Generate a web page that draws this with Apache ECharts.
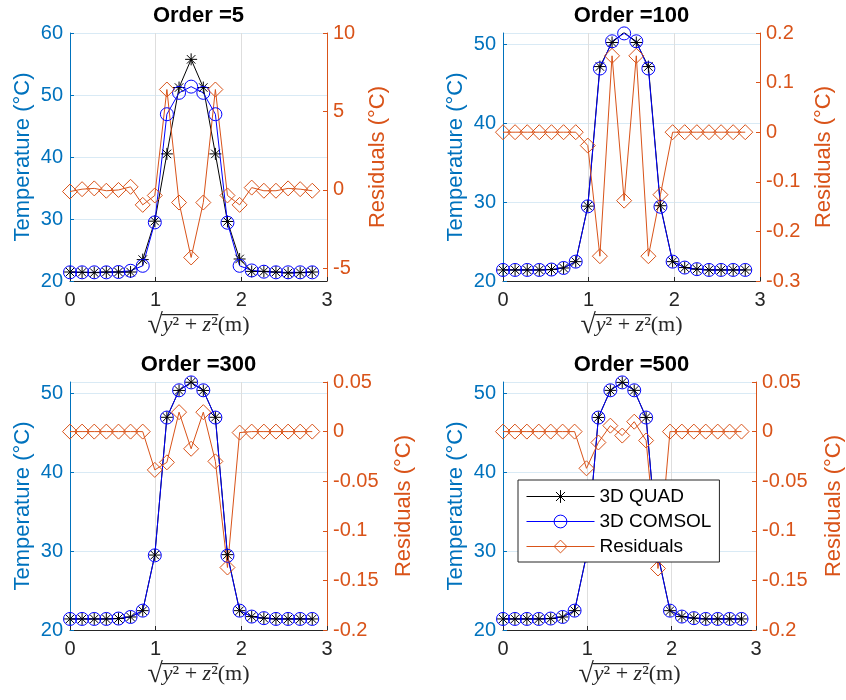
<!DOCTYPE html>
<html><head><meta charset="utf-8">
<script src="https://cdn.jsdelivr.net/npm/echarts@6/dist/echarts.min.js"></script>
<style>html,body{margin:0;padding:0;background:#fff}#c{width:846px;height:700px}</style>
</head><body><div id="c"></div>
<script>
// ---------- data ----------
const xVals = [0, 0.141, 0.283, 0.424, 0.566, 0.707, 0.849, 0.990, 1.131, 1.273, 1.414,
               1.556, 1.697, 1.838, 1.980, 2.121, 2.263, 2.404, 2.546, 2.687, 2.828];
const titles = ['Order =5', 'Order =100', 'Order =300', 'Order =500'];
const seriesNames = ['3D QUAD', '3D COMSOL', 'Residuals'];

const comsol = [21.4, 21.4, 21.4, 21.4, 21.45, 21.65, 22.45, 29.45, 46.9, 50.35, 51.35,
                50.35, 46.9, 29.4, 22.45, 21.7, 21.5, 21.4, 21.4, 21.4, 21.4];

const quad5 = [21.45, 21.4, 21.35, 21.45, 21.45, 21.45, 23.45, 29.65, 40.5, 51.2, 55.75,
               51.2, 40.5, 29.6, 23.55, 21.55, 21.55, 21.45, 21.3, 21.35, 21.45];
const res5 = [-0.1, 0.05, 0.1, -0.05, 0, 0.2, -0.95, -0.35, 6.4, -0.8, -4.3,
              -0.8, 6.4, -0.35, -0.95, 0.15, -0.05, -0.05, 0.1, 0.05, -0.05];

const quad100 = [21.4, 21.4, 21.4, 21.4, 21.45, 21.65, 22.45, 29.48, 47.15, 50.2, 51.49,
                 50.2, 47.15, 29.53, 22.45, 21.7, 21.5, 21.4, 21.4, 21.4, 21.4];
const res100 = [0, 0, 0, 0, 0, 0, 0, -0.027, -0.25, 0.154, -0.138,
                0.154, -0.25, -0.126, 0, 0, 0, 0, 0, 0, 0];

const quad300 = [21.4, 21.4, 21.4, 21.4, 21.45, 21.65, 22.45, 29.49, 46.93, 50.33, 51.37,
                 50.33, 46.93, 29.54, 22.45, 21.7, 21.5, 21.4, 21.4, 21.4, 21.4];
const res300 = [0, 0, 0, 0, 0, 0, 0, -0.0386, -0.031, 0.0196, -0.0173,
                0.0196, -0.030, -0.137, -0.001, 0, 0, 0, 0, 0, 0];

const quad500 = [21.4, 21.4, 21.4, 21.4, 21.45, 21.65, 22.45, 29.49, 46.91, 50.34, 51.35,
                 50.34, 46.91, 29.54, 22.45, 21.7, 21.5, 21.4, 21.4, 21.4, 21.4];
const res500 = [0, 0, 0, 0, 0, 0, 0, -0.037, -0.011, 0.006, -0.004,
                0.010, -0.009, -0.138, 0, 0, 0, 0, 0, 0, 0];

const xTicks = [0, 1, 2, 3];
const tempMax = [60, 51.4, 51.4, 51.4];
const resRange = [[-5.8, 10], [-0.3, 0.2], [-0.2, 0.05], [-0.2, 0.05]];
const resTicks = [
  [-5, 0, 5, 10],
  [-0.3, -0.2, -0.1, 0, 0.1, 0.2],
  [-0.2, -0.15, -0.1, -0.05, 0, 0.05],
  [-0.2, -0.15, -0.1, -0.05, 0, 0.05]
];
const quads = [quad5, quad100, quad300, quad500];
const residuals = [res5, res100, res300, res500];

// ---------- layout / style ----------
const grids = [
  {left: 70, top: 33, width: 257, height: 248},
  {left: 503, top: 33, width: 257, height: 248},
  {left: 70, top: 382, width: 257, height: 248},
  {left: 503, top: 382, width: 257, height: 248}
];
const rightNameGap = [40, 53, 66, 67];
const BLUE_AX = '#0072BD', ORANGE = '#D95319', DARK = '#262626';
const SANS = '"Liberation Sans", Arial, Helvetica, sans-serif';
const SERIF = '"Liberation Serif", "Times New Roman", serif';

const ctx = document.createElement('canvas').getContext('2d');
function tw(text, font) { ctx.font = font; return ctx.measureText(text).width; }

// x axis name: sqrt(y^2+z^2)(m) with an overbar built from rich text
const fsz = 22, qsz = 28;
const wq = tw('√', qsz + 'px ' + SERIF);
const wv = tw('y', 'italic ' + fsz + 'px ' + SERIF) + tw('z', 'italic ' + fsz + 'px ' + SERIF)
         + tw('²', fsz + 'px ' + SERIF) * 2 + tw(' + ', fsz + 'px ' + SERIF);
const wm = tw('(m)', fsz + 'px ' + SERIF);
const xNameRich = {
  s0: {width: wq - 1.5, height: 1.2, lineHeight: 1.2, fontSize: 1},
  bar: {width: wv + 2, height: 1.2, lineHeight: 1.2, fontSize: 1, backgroundColor: DARK},
  s1: {width: wm - 0.5, height: 1.2, lineHeight: 1.2, fontSize: 1},
  q: {fontFamily: SERIF, fontSize: qsz, color: DARK, lineHeight: 20},
  vi: {fontFamily: SERIF, fontStyle: 'italic', fontSize: fsz, color: DARK, lineHeight: 20},
  vn: {fontFamily: SERIF, fontSize: fsz, color: DARK, lineHeight: 20},
  m: {fontFamily: SERIF, fontSize: fsz, color: DARK, lineHeight: 20}
};
const xName = '{s0| }{bar| }{s1| }\n{q|√}{vi|y}{vn|²}{vn| + }{vi|z}{vn|²}{m|(m)}';

const starPath = 'path://M0,-10L0,10M-10,0L10,0M-7.07,-7.07L7.07,7.07M-7.07,7.07L7.07,-7.07';
const circlePath = 'path://M10,0A10,10,0,1,1,-10,0A10,10,0,1,1,10,0Z';
const diamondPath = 'path://M0,-10L10,0L0,10L-10,0Z';

const titleFont = 'bold 22px ' + SANS;
const option = {
  animation: false,
  backgroundColor: '#fff',
  title: titles.map((t, i) => {
    const g = grids[i];
    const w = tw(t, titleFont);
    return {text: t, left: g.left + g.width / 2 - w / 2, top: g.top - 28, padding: 0,
      textStyle: {fontFamily: SANS, fontWeight: 'bold', fontSize: 22, color: '#000'}};
  }),
  grid: grids.map(g => Object.assign({containLabel: false}, g)),
  legend: {
    orient: 'vertical', left: 518, top: 480, z: 20,
    padding: [7, 8, 6, 8], itemGap: 6, itemWidth: 68, itemHeight: 16,
    backgroundColor: '#fff', borderColor: DARK, borderWidth: 1, borderRadius: 0,
    lineStyle: {width: 1},
    itemStyle: {borderWidth: 1},
    textStyle: {fontFamily: SANS, fontSize: 19, color: '#000', lineHeight: 16},
    data: seriesNames
  },
  xAxis: grids.map((g, i) => ({
    type: 'value', gridIndex: i, min: 0, max: 3, interval: 1,
    axisLine: {show: true, onZero: false, lineStyle: {color: DARK, width: 1}},
    axisTick: {show: true, inside: true, length: 4, lineStyle: {color: DARK}},
    axisLabel: {fontFamily: SANS, fontSize: 20, color: DARK, margin: 9},
    splitLine: {show: true, lineStyle: {color: '#DEDEDE', width: 1}},
    name: xName, nameLocation: 'middle', nameGap: 33,
    nameTextStyle: {rich: xNameRich, align: 'center'}
  })),
  yAxis: [].concat(...grids.map((g, i) => [
    {
      type: 'value', gridIndex: i, position: 'left', min: 20, max: tempMax[i], interval: 10,
      axisLine: {show: true, lineStyle: {color: BLUE_AX, width: 1}},
      axisTick: {show: true, inside: true, length: 4, lineStyle: {color: BLUE_AX}},
      axisLabel: {fontFamily: SANS, fontSize: 20, color: BLUE_AX, margin: 7, showMaxLabel: i === 0},
      splitLine: {show: true, lineStyle: {color: '#D9EAF5', width: 1}},
      name: 'Temperature (°C)', nameLocation: 'middle', nameGap: 36, nameRotate: 90,
      nameTextStyle: {fontFamily: SANS, fontSize: 22, color: BLUE_AX}
    },
    {
      type: 'value', gridIndex: i, position: 'right', min: resRange[i][0], max: resRange[i][1],
      axisLine: {show: true, lineStyle: {color: ORANGE, width: 1}},
      axisTick: {show: true, inside: true, length: 4, lineStyle: {color: ORANGE}, customValues: resTicks[i]},
      axisLabel: {fontFamily: SANS, fontSize: 20, color: ORANGE, margin: 6, customValues: resTicks[i],
        formatter: v => String(+(+v).toFixed(4))},
      splitLine: {show: false},
      name: 'Residuals (°C)', nameLocation: 'middle', nameGap: rightNameGap[i], nameRotate: 90,
      nameTextStyle: {fontFamily: SANS, fontSize: 22, color: ORANGE}
    }
  ])),
  series: [].concat(...grids.map((g, i) => [
    {
      name: '3D QUAD', type: 'line', xAxisIndex: i, yAxisIndex: 2 * i,
      data: xVals.map((x, k) => [x, quads[i][k]]),
      symbol: starPath, symbolSize: 12, showAllSymbol: true,
      lineStyle: {color: '#000', width: 1},
      itemStyle: {color: 'none', borderColor: '#000', borderWidth: 1},
      z: 2
    },
    {
      name: '3D COMSOL', type: 'line', xAxisIndex: i, yAxisIndex: 2 * i,
      data: xVals.map((x, k) => [x, comsol[k]]),
      symbol: circlePath, symbolSize: 13, showAllSymbol: true,
      lineStyle: {color: '#0000FF', width: 1},
      itemStyle: {color: 'none', borderColor: '#0000FF', borderWidth: 1},
      z: 2
    },
    {
      name: 'Residuals', type: 'line', xAxisIndex: i, yAxisIndex: 2 * i + 1,
      data: xVals.map((x, k) => [x, residuals[i][k]]),
      symbol: diamondPath, symbolSize: 15, showAllSymbol: true,
      lineStyle: {color: ORANGE, width: 1},
      itemStyle: {color: 'none', borderColor: ORANGE, borderWidth: 1},
      z: 2
    }
  ]))
};
const chart = echarts.init(document.getElementById('c'), null, {renderer: 'canvas'});
chart.setOption(option);
</script></body></html>
